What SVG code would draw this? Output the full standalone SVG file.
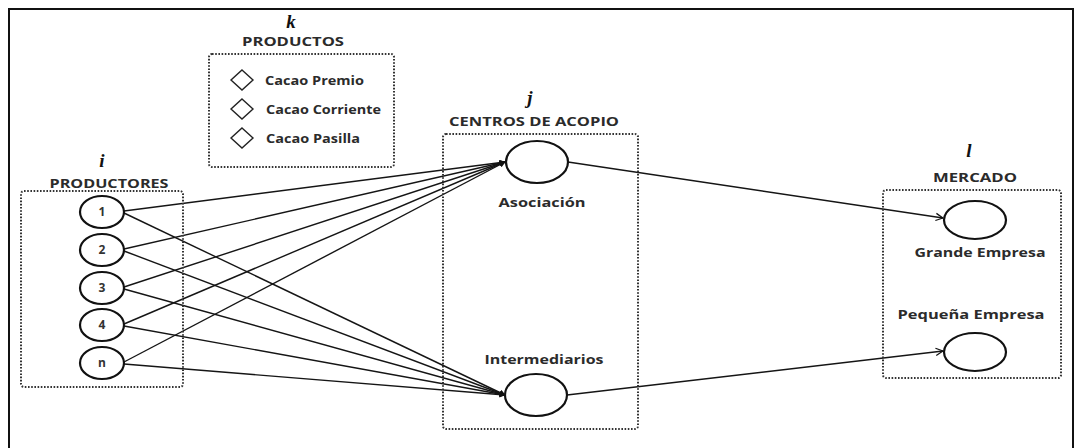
<svg xmlns="http://www.w3.org/2000/svg" width="1078" height="448" viewBox="0 0 1078 448">
  <style>
    .frame { fill: none; stroke: #111; stroke-width: 2; }
    .group { fill: none; stroke: #333; stroke-width: 2; stroke-dasharray: 1.6 1.6; }
    .node { fill: #fff; stroke: #111; stroke-width: 2.2; }
    .diamond { fill: #fff; stroke: #222; stroke-width: 1.4; }
    .lbl { font-family: "Open Sans", "Liberation Sans", sans-serif; font-weight: 700; fill: #2b2b2b; }
    .title { font-size: 12px; }
    .body { font-size: 12.5px; }
    .num { font-size: 12px; text-anchor: middle; fill: #333; }
    .idx { font-family: "Liberation Serif", "DejaVu Serif", serif; font-weight: 700; font-style: italic; font-size: 19px; fill: #111; text-anchor: middle; }
    .edge { stroke: #151515; stroke-width: 1.4; fill: none; }
  </style>
  <defs>
    <marker id="solidHead" viewBox="0 0 10 10" refX="9" refY="5" markerWidth="6" markerHeight="6" orient="auto" markerUnits="userSpaceOnUse">
      <path d="M0,0 L10,5 L0,10 z" fill="#111"/>
    </marker>
    <marker id="openHead" viewBox="0 0 10 10" refX="9" refY="5" markerWidth="9" markerHeight="9" orient="auto" markerUnits="userSpaceOnUse">
      <path d="M1,1 L9,5 L1,9" fill="none" stroke="#111" stroke-width="1.4"/>
    </marker>
  </defs>

  <rect class="frame" x="9" y="9" width="1064" height="450"/>

  <!-- product set k -->
  <g id="productos">
    <text class="idx" x="291" y="28">k</text>
    <text class="lbl title" x="293" y="46" text-anchor="middle" textLength="102" lengthAdjust="spacingAndGlyphs">PRODUCTOS</text>
    <rect class="group" x="209" y="54" width="185" height="113" rx="3"/>
    <path class="diamond" d="M242,70 L253,80 L242,90 L231,80 z"/>
    <path class="diamond" d="M242,99 L253,109 L242,119 L231,109 z"/>
    <path class="diamond" d="M242,128 L253,138 L242,148 L231,138 z"/>
    <text class="lbl body" x="265" y="85" textLength="99" lengthAdjust="spacingAndGlyphs">Cacao Premio</text>
    <text class="lbl body" x="266" y="114" textLength="115" lengthAdjust="spacingAndGlyphs">Cacao Corriente</text>
    <text class="lbl body" x="266" y="143" textLength="94" lengthAdjust="spacingAndGlyphs">Cacao Pasilla</text>
  </g>

  <!-- connectors -->
  <g id="connectors">
    <line class="edge" x1="124" y1="211" x2="505" y2="162" marker-end="url(#solidHead)"/>
    <line class="edge" x1="124" y1="249" x2="505" y2="162" marker-end="url(#solidHead)"/>
    <line class="edge" x1="124" y1="287" x2="505" y2="162" marker-end="url(#solidHead)"/>
    <line class="edge" x1="124" y1="324" x2="505" y2="162" marker-end="url(#solidHead)"/>
    <line class="edge" x1="124" y1="362" x2="505" y2="162" marker-end="url(#solidHead)"/>
    <line class="edge" x1="124" y1="213" x2="505" y2="395" marker-end="url(#solidHead)"/>
    <line class="edge" x1="124" y1="251" x2="505" y2="395" marker-end="url(#solidHead)"/>
    <line class="edge" x1="124" y1="289" x2="505" y2="395" marker-end="url(#solidHead)"/>
    <line class="edge" x1="124" y1="326" x2="505" y2="395" marker-end="url(#solidHead)"/>
    <line class="edge" x1="124" y1="364" x2="505" y2="395" marker-end="url(#solidHead)"/>
    <line class="edge" x1="568" y1="162" x2="943" y2="218" marker-end="url(#openHead)"/>
    <line class="edge" x1="567" y1="395" x2="943" y2="351" marker-end="url(#openHead)"/>
  </g>

  <!-- producers i -->
  <g id="productores">
    <text class="idx" x="102" y="167">i</text>
    <rect class="group" x="21" y="191" width="162" height="196" rx="3"/>
    <text class="lbl title" x="109" y="188" text-anchor="middle" textLength="119" lengthAdjust="spacingAndGlyphs">PRODUCTORES</text>
  </g>
  <g id="p1"><ellipse class="node" cx="102" cy="212" rx="22" ry="16"/><text class="lbl num" x="102" y="216">1</text></g>
  <g id="p2"><ellipse class="node" cx="102" cy="250" rx="22" ry="16"/><text class="lbl num" x="102" y="254">2</text></g>
  <g id="p3"><ellipse class="node" cx="102" cy="288" rx="22" ry="16"/><text class="lbl num" x="102" y="292">3</text></g>
  <g id="p4"><ellipse class="node" cx="102" cy="325" rx="22" ry="16"/><text class="lbl num" x="102" y="329">4</text></g>
  <g id="pn"><ellipse class="node" cx="102" cy="363" rx="22" ry="16"/><text class="lbl num" x="102" y="367">n</text></g>

  <!-- collection centres j -->
  <g id="centros">
    <text class="idx" x="530" y="104">j</text>
    <text class="lbl title" x="449" y="126" textLength="170" lengthAdjust="spacingAndGlyphs">CENTROS DE ACOPIO</text>
    <rect class="group" x="443" y="134" width="195" height="295" rx="3"/>
  </g>
  <g id="asociacion">
    <ellipse class="node" cx="537" cy="162" rx="31" ry="21"/>
    <text class="lbl body" x="542" y="207" text-anchor="middle" textLength="87" lengthAdjust="spacingAndGlyphs">Asociación</text>
  </g>
  <g id="intermediarios">
    <ellipse class="node" cx="536" cy="395" rx="31" ry="21"/>
    <text class="lbl body" x="544" y="364" text-anchor="middle" textLength="119" lengthAdjust="spacingAndGlyphs">Intermediarios</text>
  </g>

  <!-- market l -->
  <g id="mercado">
    <text class="idx" x="969" y="157">l</text>
    <text class="lbl title" x="975" y="182" text-anchor="middle" textLength="84" lengthAdjust="spacingAndGlyphs">MERCADO</text>
    <rect class="group" x="883" y="190" width="178" height="188" rx="3"/>
  </g>
  <g id="grande">
    <ellipse class="node" cx="975" cy="220" rx="31" ry="19"/>
    <text class="lbl body" x="980" y="257" text-anchor="middle" textLength="131" lengthAdjust="spacingAndGlyphs">Grande Empresa</text>
  </g>
  <g id="pequena">
    <ellipse class="node" cx="975" cy="352" rx="31" ry="19"/>
    <text class="lbl body" x="971" y="319" text-anchor="middle" textLength="147" lengthAdjust="spacingAndGlyphs">Pequeña Empresa</text>
  </g>
</svg>
